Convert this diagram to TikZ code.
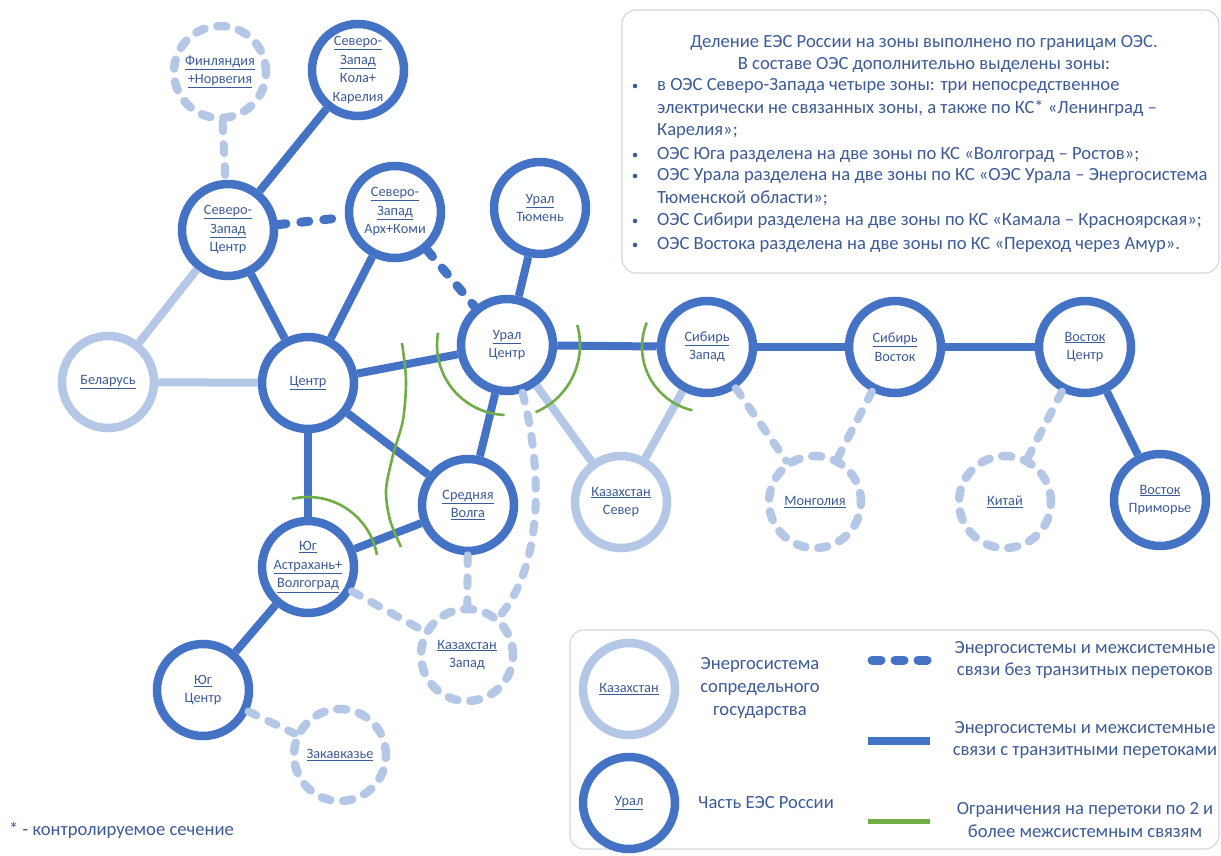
\documentclass[tikz,border=0pt]{standalone}
\usepackage{fontspec}
\setmainfont{Carlito}
\usetikzlibrary{positioning}

\definecolor{eesblue}{HTML}{4472C4}
\definecolor{nbrblue}{HTML}{B4C7E7}
\definecolor{labelblue}{HTML}{3D5B97}
\definecolor{limgreen}{HTML}{70AD47}
\definecolor{boxgray}{HTML}{D3D8E0}

\tikzset{
  zone/.style={circle, draw=eesblue, line width=8.5pt, fill=white, minimum size=92pt,
    inner sep=0pt, align=center, text=labelblue, font=\fontsize{14.3}{18.5}\selectfont},
  nbr/.style={zone, draw=nbrblue},
  nbrdash/.style={nbr, dash pattern=on 9pt off 13pt, line cap=round},
  tie/.style={eesblue, line width=8pt},
  tiedash/.style={tie, line width=9pt, dash pattern=on 8pt off 15pt, line cap=round},
  nbrtie/.style={nbrblue, line width=8pt},
  nbrtiedash/.style={nbrtie, dash pattern=on 9pt off 13pt, line cap=round},
  limit/.style={limgreen, line width=2.6pt},
  note/.style={text=labelblue, inner sep=0pt, font=\fontsize{18.6}{22.8}\selectfont},
  frame/.style={boxgray, line width=1.2pt, rounded corners=14pt},
}

\begin{document}
\begin{tikzpicture}[x=1pt, y=-1pt]
\useasboundingbox[fill=white] (0,0) rectangle (1221,856);

% zones of the UPS
\node[nbrdash] (fin)    at (220,72)   {\underline{Финляндия}\\\underline{+Норвегия}};
\node[zone]    (szkola) at (358,70)   {\underline{Северо-}\\\underline{Запад}\\Кола+\\Карелия};
\node[zone]    (szc)    at (228,230)  {\underline{Северо-}\\\underline{Запад}\\Центр};
\node[zone]    (szak)   at (395,212)  {\underline{Северо-}\\\underline{Запад}\\Арх+Коми};
\node[zone]    (uralt)  at (540,208)  {\underline{Урал}\\Тюмень};
\node[zone]    (uralc)  at (507,345)  {\underline{Урал}\\Центр};
\node[nbr]     (bel)    at (108,382)  {\underline{Беларусь}};
\node[zone]    (centr)  at (308,383)  {\underline{Центр}};
\node[zone]    (volga)  at (468,505)  {\underline{Средняя}\\\underline{Волга}};
\node[zone]    (yuga)   at (308,567)  {\underline{Юг}\\\underline{Астрахань+}\\\underline{Волгоград}};
\node[nbrdash] (kzz)    at (467,655)  {\underline{Казахстан}\\Запад};
\node[zone]    (yugc)   at (203,690)  {\underline{Юг}\\Центр};
\node[nbrdash] (zakav)  at (340,755)  {\underline{Закавказье}};
\node[nbr]     (kzs)    at (621,502)  {\underline{Казахстан}\\Север};
\node[zone]    (sibz)   at (707,347)  {\underline{Сибирь}\\Запад};
\node[zone]    (sibv)   at (895,347)  {\underline{Сибирь}\\Восток};
\node[nbrdash] (mong)   at (815,502)  {\underline{Монголия}};
\node[zone]    (vostc)  at (1085,347) {\underline{Восток}\\Центр};
\node[nbrdash] (kitai)  at (1005,502) {\underline{Китай}};
\node[zone]    (vostp)  at (1160,500) {\underline{Восток}\\Приморье};

% ties with transit flows
\draw[tie] (szc) -- (szkola);
\draw[tie] (szc) -- (centr);
\draw[tie] (szak) -- (centr);
\draw[tie] (uralt) -- (uralc);
\draw[tie] (centr) -- (uralc);
\draw[tie] (centr) -- (volga);
\draw[tie] (centr) -- (yuga);
\draw[tie] (uralc) -- (volga);
\draw[tie] (volga) -- (yuga);
\draw[tie] (yuga) -- (yugc);
\draw[tie] (uralc) -- (sibz);
\draw[tie] (sibz) -- (sibv);
\draw[tie] (sibv) -- (vostc);
\draw[tie] (vostc) -- (vostp);
% ties without transit flows
\draw[tiedash] (szc) -- (szak);
\draw[tiedash] (szak) -- (uralc);
% neighbour countries
\draw[nbrtie] (bel) -- (szc);
\draw[nbrtie] (bel) -- (centr);
\draw[nbrtie] (uralc) -- (kzs);
\draw[nbrtie] (sibz) -- (kzs);
\draw[nbrtiedash] (fin) -- (szc);
\draw[nbrtiedash] (yuga) -- (kzz);
\draw[nbrtiedash] (volga) -- (kzz);
\draw[nbrtiedash] (uralc.-72) .. controls (545,480) and (540,570) .. (kzz.50);
\draw[nbrtiedash] (yugc) -- (zakav);
\draw[nbrtiedash] (sibz) -- (mong);
\draw[nbrtiedash] (sibv) -- (mong);
\draw[nbrtiedash] (vostc) -- (kitai);

% limits on flows
\draw[limit] (yuga) ++(-103:70) arc[start angle=-103, end angle=-10, radius=70];
\draw[limit] plot[smooth] coordinates {(402,343) (406,380) (403,420) (393,455) (386,490) (390,520) (401,547)};
\draw[limit] (uralc) ++(190:70) arc[start angle=190, end angle=92, radius=70];
\draw[limit] (uralc) ++(-16:73) arc[start angle=-16, end angle=67, radius=73];
\draw[limit] (sibz) ++(202:65) arc[start angle=202, end angle=103, radius=65];

% notes
\draw[frame] (622,10) rectangle (1219,273);
\node[note, align=center] (head) at (924,54)
  {Деление ЕЭС России на зоны выполнено по границам ОЭС.\\В составе ОЭС дополнительно выделены зоны:};
\node[note, align=left, anchor=north west] (itnw) at (657,78)
  {в ОЭС Северо-Запада четыре зоны: три непосредственное\\электрически не связанных зоны, а также по КС* «Ленинград –\\Карелия»;};
\node[note, anchor=north west] (itsouth) at (657,147) {ОЭС Юга разделена на две зоны по КС «Волгоград – Ростов»;};
\node[note, align=left, anchor=north west] (itural) at (657,168)
  {ОЭС Урала разделена на две зоны по КС «ОЭС Урала – Энергосистема\\Тюменской области»;};
\node[note, anchor=north west] (itsib) at (657,213) {ОЭС Сибири разделена на две зоны по КС «Камала – Красноярская»;};
\node[note, anchor=north west] (iteast) at (657,237) {ОЭС Востока разделена на две зоны по КС «Переход через Амур».};
\foreach \it in {itnw, itsouth, itural, itsib, iteast}
  \fill[labelblue] ([xshift=-22pt, yshift=-8pt]\it.north west) circle (2.3pt);

\node[note, anchor=west] (cs) at (9,830) {* - контролируемое сечение};

% legend
\draw[frame] (570,630) rectangle (1219,849);
\node[nbr]  (lgnbr)  at (629,689) {\underline{Казахстан}};
\node[zone] (lgzone) at (629,803) {\underline{Урал}};
\node[note, align=center] (lgnbrtxt)  at (760,688) {Энергосистема\\сопредельного\\государства};
\node[note] (lgzonetxt) at (766,803) {Часть ЕЭС России};
\coordinate (ld1) at (872,660);  \coordinate (ld2) at (928,660);
\coordinate (ls1) at (868,741);  \coordinate (ls2) at (930,741);
\coordinate (lg1) at (868,821);  \coordinate (lg2) at (930,821);
\draw[tie, line width=9pt, dash pattern=on 9pt off 14pt, line cap=round] (ld1) -- (ld2);
\draw[tie] (ls1) -- (ls2);
\draw[limit, line width=5pt] (lg1) -- (lg2);
\node[note, align=center] (lgdtxt) at (1085,660) {Энергосистемы и межсистемные\\связи без транзитных перетоков};
\node[note, align=center] (lgstxt) at (1085,740) {Энергосистемы и межсистемные\\связи с транзитными перетоками};
\node[note, align=center] (lggtxt) at (1085,820) {Ограничения на перетоки по 2 и\\более межсистемным связям};
\end{tikzpicture}
\end{document}
